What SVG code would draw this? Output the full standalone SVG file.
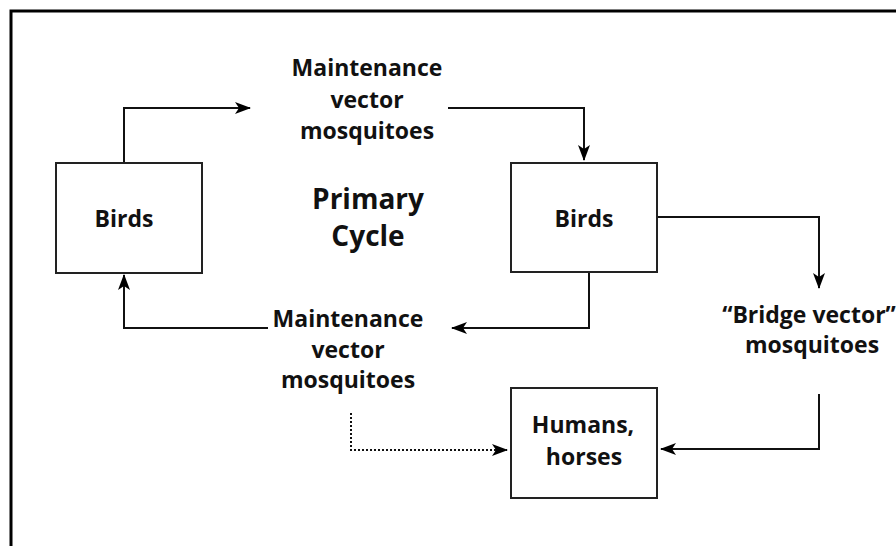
<svg xmlns="http://www.w3.org/2000/svg" width="896" height="546" viewBox="0 0 896 546">
<defs>
<style>
.frame{fill:none;stroke:#000;stroke-width:3}
.box{fill:#fff;stroke:#222;stroke-width:2}
.ln{fill:none;stroke:#111;stroke-width:2}
.dot{fill:none;stroke:#111;stroke-width:2;stroke-dasharray:2 2}
.t{font-family:"Open Sans","Noto Sans",sans-serif;font-weight:700;font-size:23px;fill:#111;text-anchor:middle}
.big{font-size:28px}
</style>
<marker id="ah" viewBox="0 0 16 12" refX="15" refY="6" markerWidth="16" markerHeight="12" markerUnits="userSpaceOnUse" orient="auto">
<path d="M0,0 L16,6 L0,12 L4,6 Z" fill="#000"/>
</marker>
</defs>
<rect width="896" height="546" fill="#fff"/>
<path class="frame" d="M11,546 V11 H896"/>
<g id="connectors">
<path class="ln" d="M124,163 V108 H250" marker-end="url(#ah)"/>
<path class="ln" d="M448,108 H584 V160" marker-end="url(#ah)"/>
<path class="ln" d="M657,217 H819 V288" marker-end="url(#ah)"/>
<path class="ln" d="M589,272 V328 H452" marker-end="url(#ah)"/>
<path class="ln" d="M268,328 H124 V275" marker-end="url(#ah)"/>
<path class="ln" d="M819,394 V449 H661" marker-end="url(#ah)"/>
<path class="dot" d="M351,413 V450 H507" marker-end="url(#ah)"/>
</g>
<g id="birds-left">
<rect class="box" x="56" y="163" width="146" height="110"/>
<text class="t" x="124" y="227">Birds</text>
</g>
<g id="birds-right">
<rect class="box" x="511" y="163" width="146" height="109"/>
<text class="t" x="584" y="227">Birds</text>
</g>
<g id="humans">
<rect class="box" x="511" y="388" width="146" height="110"/>
<text class="t" x="583" y="433">Humans,</text>
<text class="t" x="584" y="465">horses</text>
</g>
<g id="mosq-top">
<text class="t" x="367" y="76">Maintenance</text>
<text class="t" x="367" y="108">vector</text>
<text class="t" x="367" y="139">mosquitoes</text>
</g>
<g id="mosq-bottom">
<text class="t" x="348" y="327">Maintenance</text>
<text class="t" x="348" y="358">vector</text>
<text class="t" x="348" y="388">mosquitoes</text>
</g>
<g id="bridge">
<text class="t" x="809" y="323">“Bridge vector”</text>
<text class="t" x="812" y="353">mosquitoes</text>
</g>
<g id="title">
<text class="t big" x="368" y="209">Primary</text>
<text class="t big" x="368" y="246">Cycle</text>
</g>
</svg>
